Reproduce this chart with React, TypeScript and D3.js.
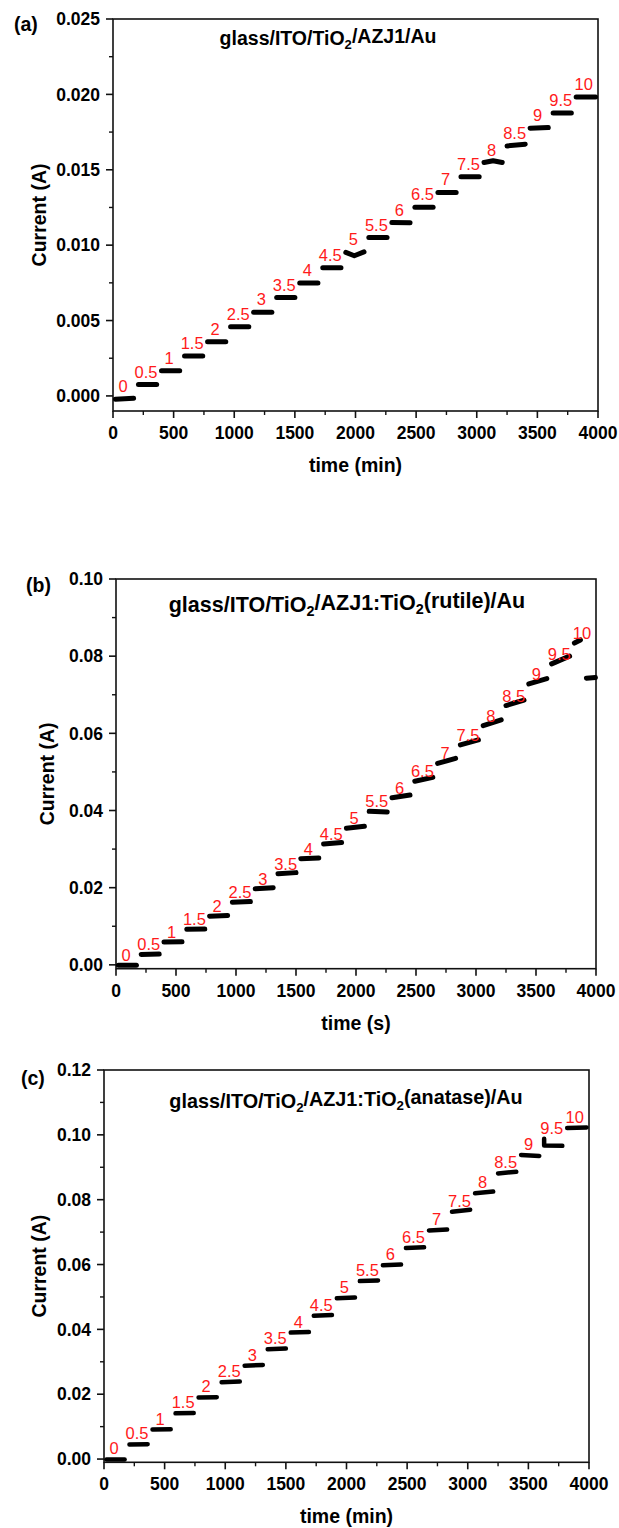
import React from "react";
import * as d3 from "d3";

const voltageLabels = ["0", "0.5", "1", "1.5", "2", "2.5", "3", "3.5", "4", "4.5", "5", "5.5", "6", "6.5", "7", "7.5", "8", "8.5", "9", "9.5", "10"];
const stepStartTimes = [0, 190, 380, 570, 760, 950, 1140, 1330, 1520, 1710, 1900, 2090, 2280, 2470, 2660, 2850, 3040, 3230, 3420, 3610, 3800];
const stepEndTimes = [190, 380, 570, 760, 950, 1140, 1330, 1520, 1710, 1900, 2090, 2280, 2470, 2660, 2850, 3040, 3230, 3420, 3610, 3800, 4000];
const bStepEndTimes = [190, 380, 570, 760, 950, 1140, 1330, 1520, 1710, 1900, 2090, 2280, 2470, 2660, 2850, 3040, 3230, 3420, 3610, 3800, 3890];

const xTicks = [0, 500, 1000, 1500, 2000, 2500, 3000, 3500, 4000];
const aYTicks = [0, 0.005, 0.01, 0.015, 0.02, 0.025];
const bYTicks = [0, 0.02, 0.04, 0.06, 0.08, 0.1];
const cYTicks = [0, 0.02, 0.04, 0.06, 0.08, 0.1, 0.12];

// panel (a): current at start / end of each voltage step
const aStart = [-0.00022, 0.00075, 0.00167, 0.00264, 0.00359, 0.00458, 0.00555, 0.00652, 0.00749, 0.0085, 0.00952, 0.0105, 0.0115, 0.01251, 0.0135, 0.01454, 0.01548, 0.01658, 0.01776, 0.01877, 0.01982];
const aEnd = [-0.00015, 0.00075, 0.00167, 0.00264, 0.00359, 0.00458, 0.00555, 0.00652, 0.00749, 0.0085, 0.00955, 0.0105, 0.01148, 0.01251, 0.0135, 0.01454, 0.01548, 0.0167, 0.0178, 0.01877, 0.01982];
const aKinkStep = [10, 16];
const aKinkTime = [1990, 3135];
const aKinkValue = [0.0093, 0.0156];

// panel (b)
const bStart = [-0.0001, 0.0027, 0.0059, 0.0092, 0.0126, 0.0162, 0.0197, 0.0236, 0.0275, 0.0313, 0.0354, 0.0398, 0.0433, 0.0476, 0.0522, 0.057, 0.062, 0.0672, 0.0728, 0.078, 0.0834];
const bEnd = [-0.0001, 0.0028, 0.006, 0.0093, 0.0128, 0.0164, 0.02, 0.0239, 0.0277, 0.0317, 0.0359, 0.0396, 0.044, 0.0486, 0.0535, 0.0583, 0.0635, 0.0686, 0.0742, 0.08, 0.0842];
const bTailTime = [3900, 4000];
const bTailValue = [0.0743, 0.0745];

// panel (c)
const cStart = [-0.0001, 0.0045, 0.0091, 0.0141, 0.019, 0.0237, 0.0288, 0.0339, 0.039, 0.0442, 0.0496, 0.0549, 0.0598, 0.0651, 0.0705, 0.0763, 0.082, 0.0881, 0.0938, 0.0988, 0.1021];
const cEnd = [-0.0001, 0.0046, 0.0092, 0.0142, 0.0191, 0.0239, 0.029, 0.0341, 0.0392, 0.0444, 0.0498, 0.0551, 0.06, 0.0653, 0.0708, 0.0769, 0.0825, 0.0886, 0.0935, 0.0966, 0.1023];
const cKinkStep = [19];
const cKinkTime = [3630];
const cKinkValue = [0.0967];

const FONT = "Arial, 'Liberation Sans', Helvetica, sans-serif";

type Cfg = {
  left: number; right: number; top: number; bottom: number;
  yDomain: [number, number]; yTicks: number[]; yFmt: string;
  starts: number[]; ends: number[]; endTimes: number[];
  kinkStep: number[]; kinkTime: number[]; kinkValue: number[];
  tailTime?: number[]; tailValue?: number[];
  tag: string; tagX: number; tagY: number;
  titleParts: string[]; titleX: number; titleY: number; titleSize: number;
  xTitle: string; yTitleX: number; labelOff: number; stroke: number;
};

function Title({ parts, x, y, size }: { parts: string[]; x: number; y: number; size: number }) {
  const kids: any[] = [];
  parts.forEach((p, i) => {
    if (i % 2 === 0) {
      kids.push(<tspan key={i} dy={i === 0 ? 0 : "-0.3em"} fontSize={size}>{p}</tspan>);
    } else {
      kids.push(<tspan key={i} dy="0.3em" fontSize={size * 0.67}>{p}</tspan>);
    }
  });
  return (
    <text x={x} y={y} textAnchor="middle" fontWeight="bold" fontFamily={FONT} fill="#000">
      {kids}
    </text>
  );
}

function Panel({ c }: { c: Cfg }) {
  const x = d3.scaleLinear().domain([0, 4000]).range([c.left, c.right]);
  const y = d3.scaleLinear().domain(c.yDomain).range([c.bottom, c.top]);
  const line = d3.line<[number, number]>().x((d) => x(d[0])).y((d) => y(d[1]));
  const inset = 20;

  const xMinor: number[] = [];
  for (let i = 0; i < xTicks.length - 1; i++) xMinor.push((xTicks[i] + xTicks[i + 1]) / 2);
  const yMinor: number[] = [];
  for (let i = 0; i < c.yTicks.length - 1; i++) yMinor.push((c.yTicks[i] + c.yTicks[i + 1]) / 2);
  const fmt = d3.format(c.yFmt);

  const segs = voltageLabels.map((lab, i) => {
    const pts: [number, number][] = [[stepStartTimes[i] + inset, c.starts[i]]];
    c.kinkStep.forEach((s, k) => {
      if (s === i) pts.push([c.kinkTime[k], c.kinkValue[k]]);
    });
    pts.push([c.endTimes[i] - inset, c.ends[i]]);
    return pts;
  });
  if (c.tailTime && c.tailValue) {
    segs.push([[c.tailTime[0] + inset, c.tailValue[0]], [c.tailTime[1] - 5, c.tailValue[1]]]);
  }

  return (
    <g>
      <rect x={c.left} y={c.top} width={c.right - c.left} height={c.bottom - c.top} fill="none" stroke="#111" strokeWidth={1.6} />
      {c.yTicks.map((t) => (
        <g key={"y" + t}>
          <line x1={c.left - 7} x2={c.left} y1={y(t)} y2={y(t)} stroke="#111" strokeWidth={1.6} />
          <text x={c.left - 13} y={y(t) + 6.2} textAnchor="end" fontSize={17.5} fontWeight="bold" fontFamily={FONT}>{fmt(t)}</text>
        </g>
      ))}
      {yMinor.map((t) => (
        <line key={"ym" + t} x1={c.left - 4} x2={c.left} y1={y(t)} y2={y(t)} stroke="#111" strokeWidth={1.4} />
      ))}
      {xTicks.map((t) => (
        <g key={"x" + t}>
          <line x1={x(t)} x2={x(t)} y1={c.bottom} y2={c.bottom + 7} stroke="#111" strokeWidth={1.6} />
          <text x={x(t)} y={c.bottom + 28} textAnchor="middle" fontSize={17.5} fontWeight="bold" fontFamily={FONT}>{t}</text>
        </g>
      ))}
      {xMinor.map((t) => (
        <line key={"xm" + t} x1={x(t)} x2={x(t)} y1={c.bottom} y2={c.bottom + 4} stroke="#111" strokeWidth={1.4} />
      ))}
      <text x={(c.left + c.right) / 2} y={c.bottom + 61} textAnchor="middle" fontSize={19.5} fontWeight="bold" fontFamily={FONT}>{c.xTitle}</text>
      <text transform={`translate(${c.yTitleX},${(c.top + c.bottom) / 2}) rotate(-90)`} textAnchor="middle" fontSize={19.5} fontWeight="bold" fontFamily={FONT}>Current (A)</text>
      <text x={c.tagX} y={c.tagY} fontSize={19.5} fontWeight="bold" fontFamily={FONT}>{c.tag}</text>
      <Title parts={c.titleParts} x={c.titleX} y={c.titleY} size={c.titleSize} />
      {segs.map((pts, i) => (
        <path key={"s" + i} d={line(pts) || ""} fill="none" stroke="#000" strokeWidth={c.stroke} strokeLinecap="round" strokeLinejoin="round" />
      ))}
      {voltageLabels.map((lab, i) => (
        <text key={"l" + i} x={x(stepStartTimes[i]) + 10} y={y(c.starts[i]) - c.labelOff} textAnchor="middle" fontSize={16.5} fontFamily={FONT} fill="#ff1a1a">{lab}</text>
      ))}
    </g>
  );
}

const panels: Cfg[] = [
  {
    left: 113, right: 598, top: 19, bottom: 411, yDomain: [-0.001, 0.025], yTicks: aYTicks, yFmt: ".3f",
    starts: aStart, ends: aEnd, endTimes: stepEndTimes, kinkStep: aKinkStep, kinkTime: aKinkTime, kinkValue: aKinkValue,
    tag: "(a)", tagX: 14, tagY: 31, titleParts: ["glass/ITO/TiO", "2", "/AZJ1/Au"], titleX: 328, titleY: 45, titleSize: 19.5,
    xTitle: "time (min)", yTitleX: 46, labelOff: 7, stroke: 5,
  },
  {
    left: 116, right: 596, top: 579, bottom: 968.7, yDomain: [-0.001, 0.1], yTicks: bYTicks, yFmt: ".2f",
    starts: bStart, ends: bEnd, endTimes: bStepEndTimes, kinkStep: [], kinkTime: [], kinkValue: [],
    tailTime: bTailTime, tailValue: bTailValue,
    tag: "(b)", tagX: 26, tagY: 592, titleParts: ["glass/ITO/TiO", "2", "/AZJ1:TiO", "2", "(rutile)/Au"], titleX: 347, titleY: 612, titleSize: 21.5,
    xTitle: "time (s)", yTitleX: 54, labelOff: 4, stroke: 5,
  },
  {
    left: 104, right: 589, top: 1070, bottom: 1462.3, yDomain: [-0.001, 0.12], yTicks: cYTicks, yFmt: ".2f",
    starts: cStart, ends: cEnd, endTimes: stepEndTimes, kinkStep: cKinkStep, kinkTime: cKinkTime, kinkValue: cKinkValue,
    tag: "(c)", tagX: 21, tagY: 1085, titleParts: ["glass/ITO/TiO", "2", "/AZJ1:TiO", "2", "(anatase)/Au"], titleX: 346, titleY: 1108, titleSize: 19.8,
    xTitle: "time (min)", yTitleX: 46, labelOff: 5, stroke: 4.5,
  },
];

export default function App() {
  return (
    <svg width={619} height={1528} viewBox="0 0 619 1528" style={{ position: "absolute", left: 0, top: 0, background: "#fff" }}>
      <rect x={0} y={0} width={619} height={1528} fill="#fff" />
      {panels.map((p, i) => (
        <Panel key={i} c={p} />
      ))}
    </svg>
  );
}
